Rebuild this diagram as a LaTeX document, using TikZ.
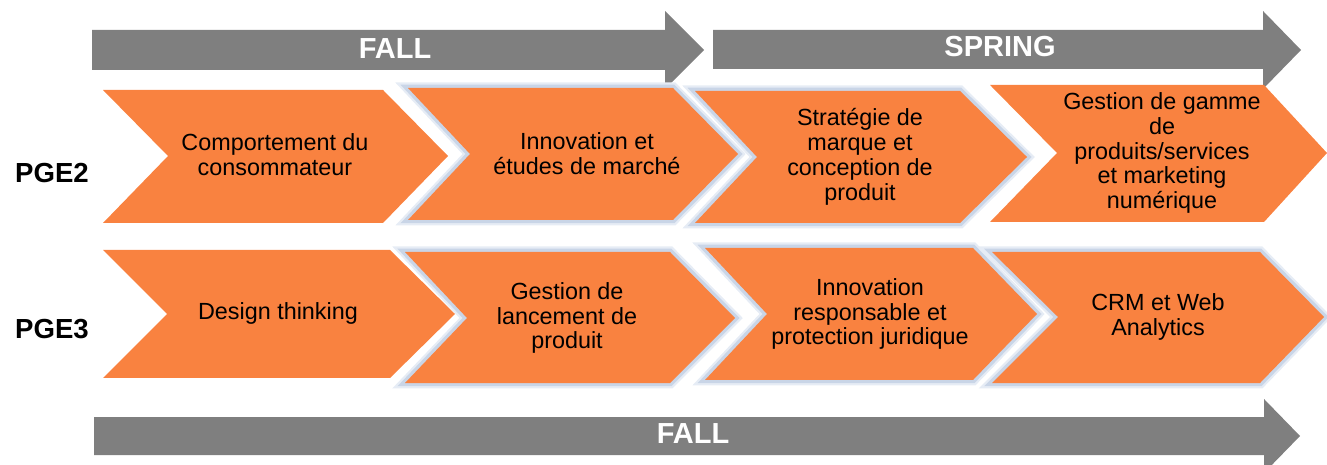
\documentclass[tikz,border=0pt]{standalone}
\usepackage{fontspec}
\setmainfont{Liberation Sans}
\usepackage{tikz}
\definecolor{chevorange}{HTML}{F98240}
\definecolor{termgray}{HTML}{7F7F7F}
\definecolor{glowblue}{HTML}{C9D5E7}
\definecolor{glowpale}{HTML}{E6ECF5}

\begin{document}
\begin{tikzpicture}[x=0.02cm, y=-0.02cm]

\tikzstyle{every node}=[align=center, text=black, font=\fontsize{13.3}{14.2}\selectfont]
\tikzstyle{chev}=[fill=chevorange, draw=none]
\tikzstyle{glowchev}=[chev, preaction={draw=glowpale, line width=0.22cm}, preaction={draw=glowblue, line width=0.13cm}]
\tikzstyle{term}=[fill=termgray, draw=none]
\tikzstyle{termname}=[text=white, font=\fontsize{16.5}{18}\selectfont\bfseries]
\tikzstyle{rowname}=[font=\fontsize{15.7}{17}\selectfont\bfseries]

\useasboundingbox (0,0) rectangle (1327,465);

% terms
\fill[term] (92,30) -- (665,30) -- (665,11) -- (704,50) -- (665,89) -- (665,70) -- (92,70) -- cycle;
\fill[term] (713,30) -- (1263,30) -- (1263,11) -- (1301,50) -- (1263,89) -- (1263,69) -- (713,69) -- cycle;
\fill[term] (94,417) -- (1264,417) -- (1264,399) -- (1300,436) -- (1264,473) -- (1264,455) -- (94,455) -- cycle;
\node[termname] (fall1) at (395,49) {FALL};
\node[termname] (spring) at (1000,47) {SPRING};
\node[termname] (fall2) at (693,434) {FALL};

% PGE2 row
\path[chev] (103,90) -- (383,90) -- (448,156) -- (383,223) -- (103,223) -- (168,156) -- cycle;
\path[glowchev] (408,88) -- (673,88) -- (738,154) -- (673,220) -- (408,220) -- (470,154) -- cycle;
\path[glowchev] (695,91) -- (960,91) -- (1027,157) -- (960,223) -- (695,223) -- (757,157) -- cycle;
\path[chev] (990,85) -- (1264,85) -- (1327,153) -- (1264,222) -- (990,222) -- (1057,153) -- cycle;

% PGE3 row
\path[chev] (103,250) -- (390,250) -- (455,314) -- (390,378) -- (103,378) -- (167,314) -- cycle;
\path[glowchev] (405,252) -- (670,252) -- (735,318) -- (670,383) -- (405,383) -- (467,318) -- cycle;
\path[glowchev] (705,248) -- (973,248) -- (1037,314) -- (973,380) -- (705,380) -- (767,314) -- cycle;
\path[glowchev] (992,252) -- (1260,252) -- (1324,317) -- (1260,383) -- (992,383) -- (1058,317) -- cycle;

\node[rowname] (pge2) at (52,173) {PGE2};
\node[rowname] (pge3) at (52,329) {PGE3};

\node (a1) at (275,155) {Comportement du\\consommateur};
\node (a2) at (587,154) {Innovation et\\études de marché};
\node (a3) at (860,157) {Stratégie de\\marque et\\conception de\\produit};
\node (a4) at (1162,153) {Gestion de gamme\\de\\produits/services\\et marketing\\numérique};

\node (b1) at (278,313) {Design thinking};
\node (b2) at (567,318) {Gestion de\\lancement de\\produit};
\node (b3) at (870,314) {Innovation\\responsable et\\protection juridique};
\node (b4) at (1158,317) {CRM et Web\\Analytics};

\end{tikzpicture}
\end{document}
